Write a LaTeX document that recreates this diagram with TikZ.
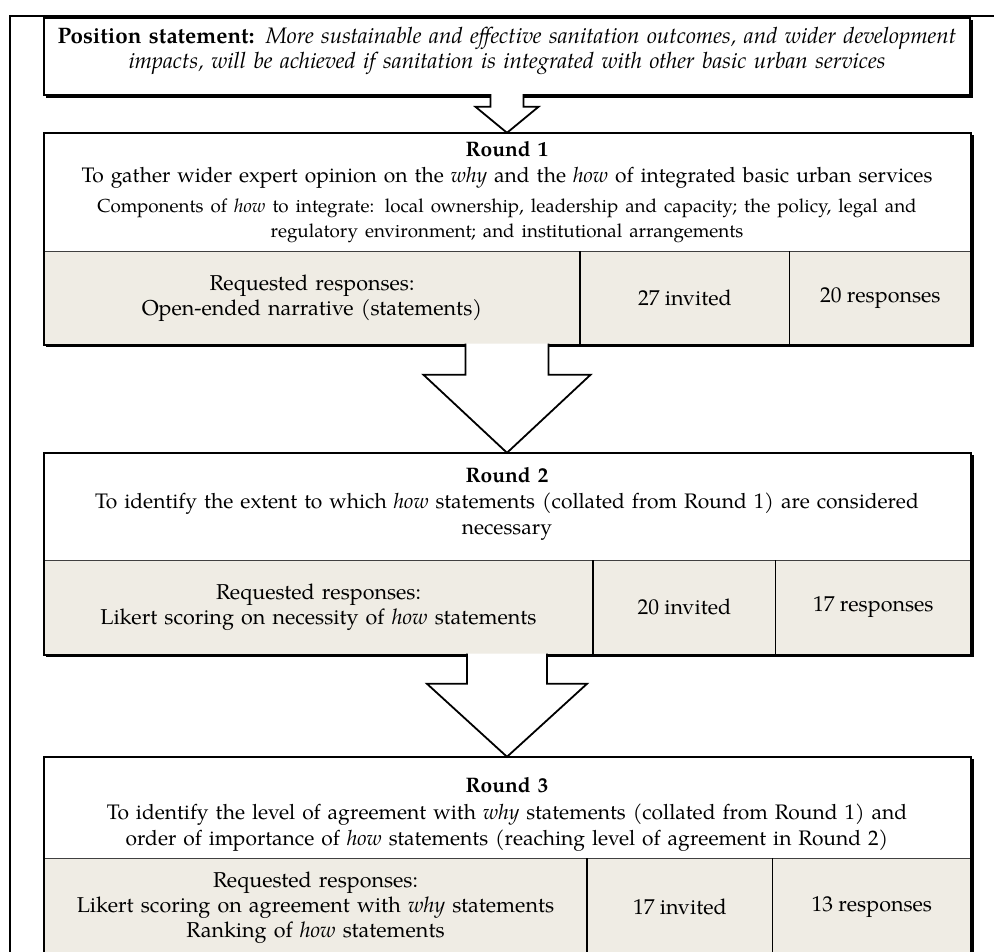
\documentclass[tikz,border=0pt]{standalone}
\usepackage{fontspec}
\setmainfont{TeX Gyre Pagella}
\usetikzlibrary{positioning,calc,backgrounds}

% block arrow: from, to, shaft half width, head half width, head length
\newcommand{\blockarrow}[5]{%
  \draw[arrowline] let \p1=(#1), \p2=(#2) in
    (\x1-#3pt,\y1+1pt) -- (\x1-#3pt,\y2+#5pt) -- (\x2-#4pt,\y2+#5pt) -- (\x2,\y2)
    -- (\x2+#4pt,\y2+#5pt) -- (\x1+#3pt,\y2+#5pt) -- (\x1+#3pt,\y1+1pt);}
% outline and shadow of one stage: top left node, bottom right node
\newcommand{\stageframe}[2]{%
  \draw[boxline] (#1.north west) rectangle (#2.south east);
  \begin{scope}[on background layer]
    \fill[black] ([shift={(2.6pt,-2.6pt)}]#1.north west) rectangle ([shift={(2.6pt,-2.6pt)}]#2.south east);
  \end{scope}}

\begin{document}
\begin{tikzpicture}[x=1pt,y=-1pt]
  \definecolor{cellgray}{RGB}{239,236,228}
  \tikzset{
    boxline/.style={draw=black,line width=1.8pt},
    roundbox/.style={fill=white,minimum width=926pt,inner sep=0pt},
    roundtext/.style={text width=910pt,align=center,font=\fontsize{21}{26}\selectfont},
    cellbox/.style={fill=cellgray,inner sep=0pt,anchor=north west,
      align=center,font=\fontsize{21.5}{25}\selectfont},
    cellline/.style={draw=black,line width=1.6pt},
    divline/.style={draw=black!75,line width=1.1pt},
    arrowline/.style={draw=black,line width=1.8pt,fill=white,line join=miter}
  }
  \clip (0,0) rectangle (994,952);
  \draw[line width=1.6pt] (1000,16) -- (10,16) -- (10,960);

  % position statement
  \node[roundbox,minimum height=77pt] (pos) at (507,56.5) {};
  \node[text width=980pt,align=center,font=\fontsize{22.4}{25}\selectfont]
    (postext) at ([yshift=6pt]pos.center)
    {\textbf{Position statement:} \textit{More sustainable and effective sanitation outcomes, and wider development\\
     impacts, will be achieved if sanitation is integrated with other basic urban services}};
  \stageframe{pos}{pos}

  % round 1
  \node[roundbox,minimum height=118pt] (r1) at (507,192) {};
  \node[roundtext] (r1text) at (r1.center)
    {\textbf{Round 1}\\
     To gather wider expert opinion on the \textit{why} and the \textit{how} of integrated basic urban services\par
     \vspace{5pt}{\fontsize{18.8}{25}\selectfont Components of \textit{how} to integrate: local ownership, leadership and capacity; the policy, legal and\\
     regulatory environment; and institutional arrangements\par}};
  \node[cellbox,minimum width=536pt,minimum height=93pt,text width=520pt] (r1a) at (r1.south west)
    {Requested responses:\\ Open-ended narrative (statements)};
  \node[cellbox,minimum width=209pt,minimum height=93pt] (r1b) at (r1a.north east) {27 invited};
  \node[cellbox,minimum width=181pt,minimum height=93pt] (r1c) at (r1b.north east) {20 responses};
  \draw[divline] (r1.south west) -- (r1.south east);
  \draw[cellline] (r1a.north east) -- (r1a.south east);
  \draw[cellline] (r1b.north east) -- (r1b.south east);
  \stageframe{r1}{r1c}

  % round 2
  \node[roundbox,minimum height=107pt] (r2) at (507,506.5) {};
  \node[roundtext] (r2text) at ([yshift=3pt]r2.center)
    {\textbf{Round 2}\\
     To identify the extent to which \textit{how} statements (collated from Round 1) are considered\\
     necessary};
  \node[cellbox,minimum width=549pt,minimum height=94pt,text width=530pt] (r2a) at (r2.south west)
    {Requested responses:\\ Likert scoring on necessity of \textit{how} statements};
  \node[cellbox,minimum width=182pt,minimum height=94pt] (r2b) at (r2a.north east) {20 invited};
  \node[cellbox,minimum width=195pt,minimum height=94pt] (r2c) at (r2b.north east) {17 responses};
  \draw[divline] (r2.south west) -- (r2.south east);
  \draw[cellline] (r2a.north east) -- (r2a.south east);
  \draw[cellline] (r2b.north east) -- (r2b.south east);
  \stageframe{r2}{r2c}

  % round 3
  \node[roundbox,minimum height=101pt] (r3) at (507,807.5) {};
  \node[roundtext,font=\fontsize{21}{26.5}\selectfont] (r3text) at ([yshift=-7pt]r3.center)
    {\textbf{Round 3}\\
     To identify the level of agreement with \textit{why} statements (collated from Round 1) and\\
     order of importance of \textit{how} statements (reaching level of agreement in Round 2)};
  \node[cellbox,minimum width=543pt,minimum height=98pt,text width=530pt] (r3a) at (r3.south west)
    {Requested responses:\\ Likert scoring on agreement with \textit{why} statements\\ Ranking of \textit{how} statements};
  \node[cellbox,minimum width=185pt,minimum height=98pt] (r3b) at (r3a.north east) {17 invited};
  \node[cellbox,minimum width=198pt,minimum height=98pt] (r3c) at (r3b.north east) {13 responses};
  \draw[divline] (r3.south west) -- (r3.south east);
  \draw[cellline] (r3a.north east) -- (r3a.south east);
  \draw[cellline] (r3b.north east) -- (r3b.south east);
  \stageframe{r3}{r3c}

  % arrows between the stages
  \blockarrow{pos.south}{r1.north}{16.5}{31.5}{26}
  \blockarrow{r1.center |- r1a.south}{r2.north}{41.5}{83.5}{78}
  \blockarrow{r2.center |- r2a.south}{r3.north}{40}{80}{73}
\end{tikzpicture}
\end{document}
